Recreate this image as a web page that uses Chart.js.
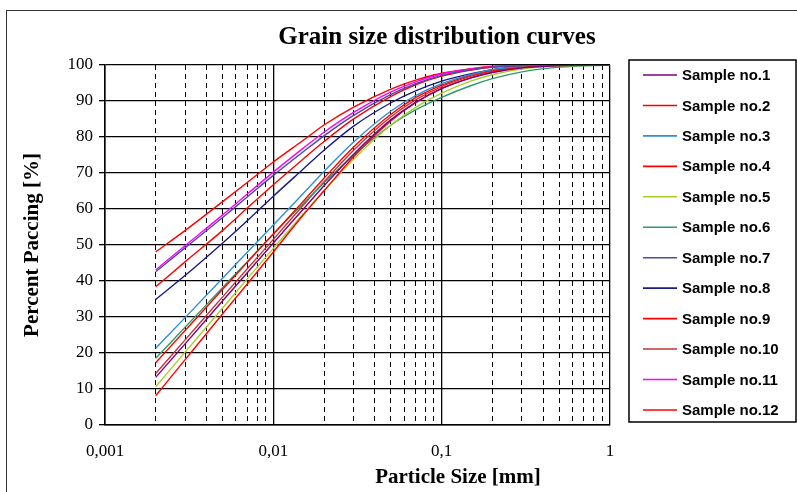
<!DOCTYPE html>
<html>
<head>
<meta charset="utf-8">
<script src="https://cdn.jsdelivr.net/npm/chart.js@4.4.0/dist/chart.umd.min.js"></script>
<style>
  html, body { margin: 0; padding: 0; background: #fff; }
  #wrap { position: relative; width: 797px; height: 492px; overflow: hidden; }
  #frame { position: absolute; left: 6px; top: 10px; width: 900px; height: 600px; border: 1.5px solid #333; box-sizing: border-box; }
  canvas { position: absolute; left: 0; top: 0; }
</style>
</head>
<body>
<div id="wrap">
  <div id="frame"></div>
  <canvas id="c" width="797" height="492"></canvas>
</div>
<script>
// ---- data ----
const sizes = [0.002, 0.003, 0.005, 0.007, 0.01, 0.015, 0.02, 0.03, 0.05, 0.07, 0.1, 0.15, 0.2, 0.3, 0.5, 1];
const sampleNames = ["Sample no.1","Sample no.2","Sample no.3","Sample no.4","Sample no.5","Sample no.6",
                     "Sample no.7","Sample no.8","Sample no.9","Sample no.10","Sample no.11","Sample no.12"];
const sample1  = [13.1, 22.5, 34.4, 42.2, 50.5, 59.8, 66.4, 75.2, 84.8, 89.6, 93.4, 96.4, 97.9, 99.2, 99.8, 100];
const sample2  = [ 8.0, 18.1, 30.8, 39.1, 48.0, 58.2, 65.0, 74.5, 84.5, 89.5, 93.5, 96.5, 98.0, 99.3, 99.9, 100];
const sample3  = [21.2, 29.8, 40.7, 47.9, 55.5, 64.2, 70.4, 78.6, 87.2, 91.5, 94.8, 97.4, 98.7, 99.5, 99.9, 100];
const sample4  = [17.2, 26.2, 37.6, 45.1, 53.0, 62.0, 68.5, 77.2, 86.3, 90.9, 94.4, 97.2, 98.5, 99.5, 99.9, 100];
const sample5  = [10.5, 20.2, 32.4, 40.5, 49.0, 58.5, 65.0, 73.8, 83.3, 88.2, 92.2, 95.6, 97.3, 98.9, 99.7, 100];
const sample6  = [18.4, 27.1, 38.1, 45.3, 53.0, 61.4, 67.2, 74.9, 83.3, 87.5, 91.0, 94.3, 96.2, 98.1, 99.4, 100];
const sample7  = [42.5, 49.2, 57.6, 63.3, 69.3, 75.8, 80.3, 86.0, 91.8, 94.8, 97.1, 98.7, 99.4, 99.8, 100, 100];
const sample8  = [34.8, 41.5, 50.5, 56.7, 63.5, 71.0, 76.3, 83.0, 89.5, 92.8, 95.5, 97.6, 98.7, 99.5, 99.9, 100];
const sample9  = [38.3, 45.3, 54.0, 60.2, 66.7, 73.8, 78.7, 85.0, 91.3, 94.5, 96.9, 98.6, 99.4, 99.8, 100, 100];
const sample10 = [14.2, 23.6, 35.5, 43.3, 51.5, 60.9, 67.5, 76.3, 85.6, 90.3, 94.0, 96.9, 98.3, 99.4, 99.9, 100];
const sample11 = [43.0, 49.8, 58.3, 64.1, 70.2, 76.8, 81.3, 86.8, 92.5, 95.3, 97.5, 98.9, 99.5, 99.9, 100, 100];
const sample12 = [48.0, 54.0, 62.0, 67.3, 73.0, 79.0, 83.3, 88.3, 93.3, 95.8, 97.7, 99.0, 99.6, 99.9, 100, 100];
const seriesValues = [sample1, sample2, sample3, sample4, sample5, sample6,
                      sample7, sample8, sample9, sample10, sample11, sample12];
const seriesColors = ["#800080","#FF0000","#2E8FD6","#FF0000","#A6CE28","#2E9A6A",
                      "#4A4AAA","#1A1A8C","#FF0000","#C83232","#FF00FF","#FF0000"];
const xTickValues = [0.001, 0.01, 0.1, 1];
const xTickLabels = ["0,001", "0,01", "0,1", "1"];
const yTicks = [0,10,20,30,40,50,60,70,80,90,100];

// grid positions at 1..9 x each decade
const gridValues = [];
for (let d = 0; d < xTickValues.length - 1; d++) {
  for (let m = 1; m <= 9; m++) gridValues.push(+(xTickValues[d] * m).toPrecision(6));
}
gridValues.push(1);

const PLOT_L = 105, PLOT_R = 610, PLOT_T = 65, PLOT_B = 424.5;

const datasets = seriesValues.map((vals, i) => ({
  label: sampleNames[i],
  data: sizes.map((s, j) => ({x: s, y: vals[j]})),
  borderColor: seriesColors[i],
  backgroundColor: seriesColors[i],
  borderWidth: 1.4,
  pointRadius: 0,
  fill: false,
  cubicInterpolationMode: 'monotone'
}));

function isMajor(v) {
  const l = Math.log10(v);
  return Math.abs(l - Math.round(l)) < 1e-6;
}

const decorPlugin = {
  id: 'decor',
  afterDraw(chart) {
    const ctx = chart.ctx;
    ctx.save();
    ctx.fillStyle = '#000';
    ctx.textAlign = 'center';
    ctx.textBaseline = 'middle';
    ctx.font = 'bold 25px "Liberation Serif", "Times New Roman", serif';
    ctx.fillText('Grain size distribution curves', 437, 38);
    ctx.font = 'bold 21px "Liberation Serif", "Times New Roman", serif';
    ctx.fillText('Particle Size [mm]', 458, 478);
    ctx.save();
    ctx.translate(33, 245);
    ctx.rotate(-Math.PI / 2);
    ctx.fillText('Percent Paccing [%]', 0, 0);
    ctx.restore();

    // legend
    const bx = 629, by = 60, bw = 167, bh = 362;
    ctx.fillStyle = '#fff';
    ctx.fillRect(bx, by, bw, bh);
    ctx.strokeStyle = '#000';
    ctx.lineWidth = 1.5;
    ctx.strokeRect(bx, by, bw, bh);
    ctx.font = 'bold 15px "Liberation Sans", Arial, sans-serif';
    ctx.textAlign = 'left';
    chart.data.datasets.forEach((ds, i) => {
      const y = 75 + i * 30.45;
      ctx.strokeStyle = ds.borderColor;
      ctx.lineWidth = 1.6;
      ctx.beginPath();
      ctx.moveTo(643, y);
      ctx.lineTo(677, y);
      ctx.stroke();
      ctx.fillStyle = '#000';
      ctx.fillText(ds.label, 682, y + 1);
    });
    ctx.restore();
  }
};

new Chart(document.getElementById('c'), {
  type: 'line',
  data: { datasets },
  plugins: [decorPlugin],
  options: {
    responsive: false,
    animation: false,
    devicePixelRatio: 1,
    layout: { padding: { left: 0, top: PLOT_T, right: 797 - PLOT_R, bottom: 0 } },
    plugins: { legend: { display: false }, title: { display: false }, tooltip: { enabled: false } },
    scales: {
      x: {
        type: 'logarithmic',
        min: 0.001,
        max: 1,
        afterBuildTicks(scale) { scale.ticks = gridValues.map(v => ({ value: v, major: isMajor(v) })); },
        afterFit(scale) { scale.height = 492 - PLOT_B; },
        ticks: {
          autoSkip: false,
          maxRotation: 0,
          padding: 17,
          color: '#000',
          font: { family: '"Liberation Serif", "Times New Roman", serif', size: 17 },
          callback(value) {
            const k = xTickValues.findIndex(t => Math.abs(t - value) / t < 1e-6);
            return k >= 0 ? xTickLabels[k] : '';
          }
        },
        grid: {
          drawTicks: false,
          color: '#000',
          lineWidth: (c) => (c.tick && isMajor(c.tick.value)) ? 1.3 : 1
        },
        border: {
          display: true,
          color: '#000',
          width: 1.5,
          dash: (c) => (c.tick && !isMajor(c.tick.value)) ? [5, 4] : []
        }
      },
      y: {
        type: 'linear',
        min: 0,
        max: 100,
        afterBuildTicks(scale) { scale.ticks = yTicks.map(v => ({ value: v })); },
        afterFit(scale) { scale.width = PLOT_L; },
        ticks: {
          padding: 6,
          color: '#000',
          font: { family: '"Liberation Serif", "Times New Roman", serif', size: 17 }
        },
        grid: { color: '#000', lineWidth: 1.3, tickLength: 6 },
        border: { display: true, color: '#000', width: 1.5 }
      }
    }
  }
});
</script>
</body>
</html>
